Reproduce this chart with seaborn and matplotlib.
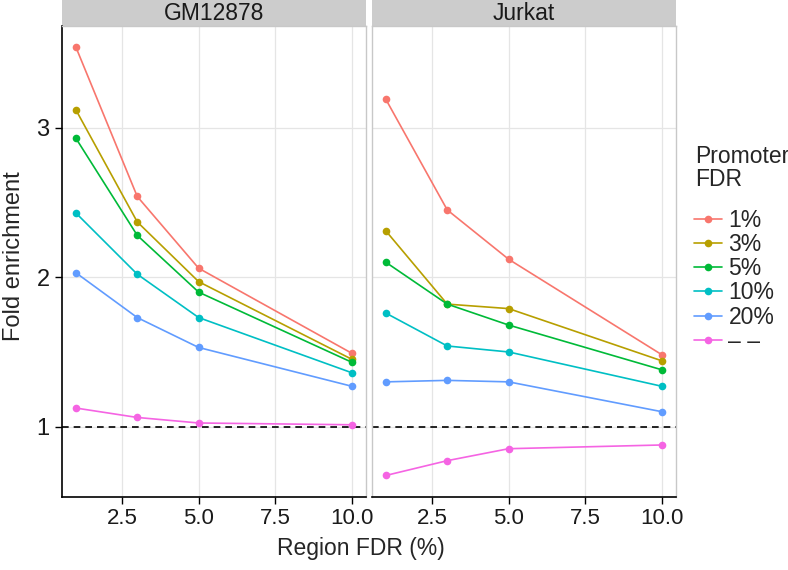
import numpy as np
import pandas as pd
import matplotlib
matplotlib.use('Agg')
import matplotlib.pyplot as plt
import seaborn as sns
from matplotlib.patches import Rectangle
from matplotlib.lines import Line2D

# values
region_fdr = [1, 3, 5, 10]
promoter_fdr = ['1%', '3%', '5%', '10%', '20%', '– –']
cell_lines = ['GM12878', 'Jurkat']

gm_1 = [3.54, 2.54, 2.06, 1.49]
gm_3 = [3.12, 2.37, 1.97, 1.45]
gm_5 = [2.93, 2.28, 1.90, 1.43]
gm_10 = [2.43, 2.02, 1.73, 1.36]
gm_20 = [2.03, 1.73, 1.53, 1.27]
gm_none = [1.125, 1.062, 1.025, 1.013]

jk_1 = [3.19, 2.45, 2.12, 1.48]
jk_3 = [2.31, 1.82, 1.79, 1.44]
jk_5 = [2.10, 1.82, 1.68, 1.38]
jk_10 = [1.76, 1.54, 1.50, 1.27]
jk_20 = [1.30, 1.31, 1.30, 1.10]
jk_none = [0.674, 0.773, 0.853, 0.878]

colors = ['#F8766D', '#B79F00', '#00BA38', '#00BFC4', '#619CFF', '#F564E3']

rows = []
series = {'GM12878': [gm_1, gm_3, gm_5, gm_10, gm_20, gm_none],
          'Jurkat': [jk_1, jk_3, jk_5, jk_10, jk_20, jk_none]}
for cell in cell_lines:
    for lvl, vals in zip(promoter_fdr, series[cell]):
        for x, y in zip(region_fdr, vals):
            rows.append({'cell': cell, 'promoter': lvl, 'region': x, 'fold': y})
df = pd.DataFrame(rows)

sns.set_theme(style='white')
plt.rcParams['font.family'] = ['Liberation Sans', 'DejaVu Sans']

fig = plt.figure(figsize=(7.88, 5.70), dpi=100)
W, H = 788, 570
panels = [(62, 366), (372, 676)]
top, bottom = 26, 497
for i, (cell, (l, r)) in enumerate(zip(cell_lines, panels)):
    ax = fig.add_axes([l / W, 1 - bottom / H, (r - l) / W, (bottom - top) / H])
    sub = df[df['cell'] == cell]
    sns.lineplot(data=sub, x='region', y='fold', hue='promoter', hue_order=promoter_fdr,
                 palette=colors, marker='o', markersize=5.5, markeredgewidth=0,
                 linewidth=1.2, legend=False, ax=ax, zorder=3)
    ax.axhline(1, color='black', linestyle=(0, (4, 3)), linewidth=1.2, zorder=2)
    ax.set_xlim(0.55, 10.45)
    ax.set_ylim(0.53, 3.68)
    ax.set_xticks([2.5, 5, 7.5, 10])
    ax.set_xticklabels(['2.5', '5.0', '7.5', '10.0'], fontsize=16)
    ax.set_yticks([1, 2, 3])
    ax.grid(True, color='#E5E5E5', linewidth=0.9)
    ax.set_axisbelow(True)
    ax.set_xlabel('')
    ax.set_ylabel('')
    for s in ['top', 'right', 'left']:
        ax.spines[s].set_color('#C8C8C8')
        ax.spines[s].set_linewidth(1.0)
    ax.spines['bottom'].set_color('black')
    ax.spines['bottom'].set_linewidth(1.2)
    ax.tick_params(axis='x', length=5, width=1, color='black', direction='out',
                   bottom=True, pad=3, labelcolor='#1A1A1A')
    if i == 0:
        ax.spines['left'].set_color('black')
        ax.spines['left'].set_linewidth(1.2)
        ax.tick_params(axis='y', length=5, width=1, color='black', direction='out',
                       left=True, labelsize=17, pad=4, labelcolor='#1A1A1A')
    else:
        ax.tick_params(axis='y', left=False, labelleft=False)
    # facet strip
    strip_h = 26 / (bottom - top)
    ax.add_patch(Rectangle((0, 1.0), 1, strip_h, transform=ax.transAxes,
                           facecolor='#CCCCCC', edgecolor='none', clip_on=False))
    ax.text(0.5, 1 + strip_h / 2, cell, transform=ax.transAxes, ha='center',
            va='center', fontsize=16.5, color='#1A1A1A')

fig.text(361 / W, 1 - 549 / H, 'Region FDR (%)', ha='center', va='center', fontsize=16.5)
fig.text(14 / W, 1 - 256 / H, 'Fold enrichment', ha='center', va='center',
         rotation=90, fontsize=17)

fig.text(695 / W, 1 - 145 / H, 'Promoter\nFDR', ha='left', va='top',
         fontsize=16.5, linespacing=1.0)
handles = [Line2D([0], [0], color=c, marker='o', markersize=5.5, markeredgewidth=0,
                  linewidth=1.2) for c in colors]
leg = fig.legend(handles, promoter_fdr, loc='upper left',
                 bbox_to_anchor=(694 / W, 1 - 209 / H), frameon=False, fontsize=16.5,
                 handlelength=1.2, handletextpad=0.3,
                 labelspacing=0.05, borderaxespad=0, borderpad=0)

fig.savefig('out.png', dpi=100)
